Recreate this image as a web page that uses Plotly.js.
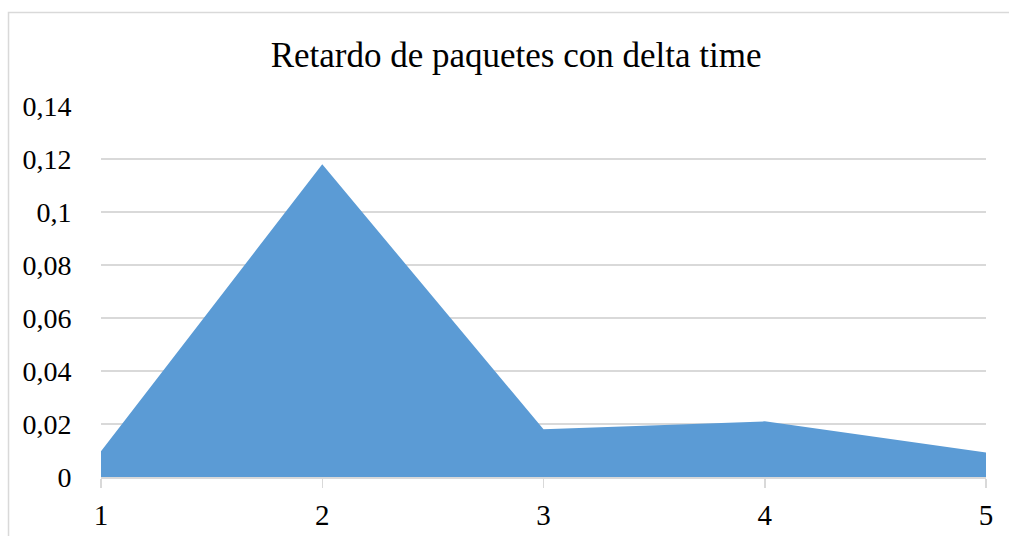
<!DOCTYPE html>
<html>
<head>
<meta charset="utf-8">
<script src="https://cdn.plot.ly/plotly-3.0.1.min.js"></script>
<style>
  html, body { margin: 0; padding: 0; background: #ffffff; }
  #chart { width: 1009px; height: 536px; }
</style>
</head>
<body>
<div id="chart"></div>
<script>
// Packet delay per sample (seconds)
const muestras = [1, 2, 3, 4, 5];
const retardo = [0.0097, 0.118, 0.018, 0.021, 0.0092];
const yTicks = [0, 0.02, 0.04, 0.06, 0.08, 0.1, 0.12, 0.14];
const yTickText = ['0', '0,02', '0,04', '0,06', '0,08', '0,1', '0,12', '0,14'];
const xTickText = ['1', '2', '3', '4', '5'];

const serif = 'Liberation Serif';

const trace = {
  x: muestras,
  y: retardo,
  type: 'scatter',
  mode: 'lines',
  fill: 'tozeroy',
  fillcolor: '#5B9BD5',
  line: { width: 0, color: '#5B9BD5' },
  hoverinfo: 'x+y'
};

const layout = {
  width: 1009,
  height: 536,
  margin: { l: 101, r: 23, t: 106, b: 59 },
  paper_bgcolor: '#ffffff',
  plot_bgcolor: '#ffffff',
  showlegend: false,
  font: { family: serif, size: 28, color: '#000000' },
  title: {
    text: 'Retardo de paquetes con delta time',
    font: { family: serif, size: 35, color: '#000000' },
    xref: 'paper', x: 0.469, xanchor: 'center',
    yref: 'container', y: 0.898, yanchor: 'middle'
  },
  xaxis: {
    range: [1, 5],
    tickvals: muestras,
    ticktext: xTickText,
    showgrid: false,
    zeroline: false,
    showline: true,
    linecolor: '#D9D9D9',
    linewidth: 1.5,
    ticks: 'outside',
    ticklen: 9,
    tickwidth: 1.5,
    tickcolor: '#D9D9D9',
    ticklabelstandoff: 3,
    tickfont: { family: serif, size: 29, color: '#000000' },
    fixedrange: true
  },
  yaxis: {
    range: [0, 0.14],
    tickvals: yTicks,
    ticktext: yTickText,
    showgrid: true,
    gridcolor: '#D9D9D9',
    gridwidth: 1.5,
    zeroline: false,
    showline: false,
    // invisible ticks keep the labels clear of the plot edge
    ticks: 'outside',
    ticklen: 23,
    tickcolor: 'rgba(0,0,0,0)',
    tickfont: { family: serif, size: 28, color: '#000000' },
    fixedrange: true
  },
  shapes: [{
    type: 'rect',
    xref: 'paper', yref: 'paper',
    x0: -0.1045, x1: 1.1,
    y0: -0.3, y1: 1.252,
    line: { color: '#D9D9D9', width: 1.5 },
    fillcolor: 'rgba(0,0,0,0)',
    layer: 'below'
  }]
};

Plotly.newPlot('chart', [trace], layout, { displayModeBar: false, staticPlot: true });
</script>
</body>
</html>
